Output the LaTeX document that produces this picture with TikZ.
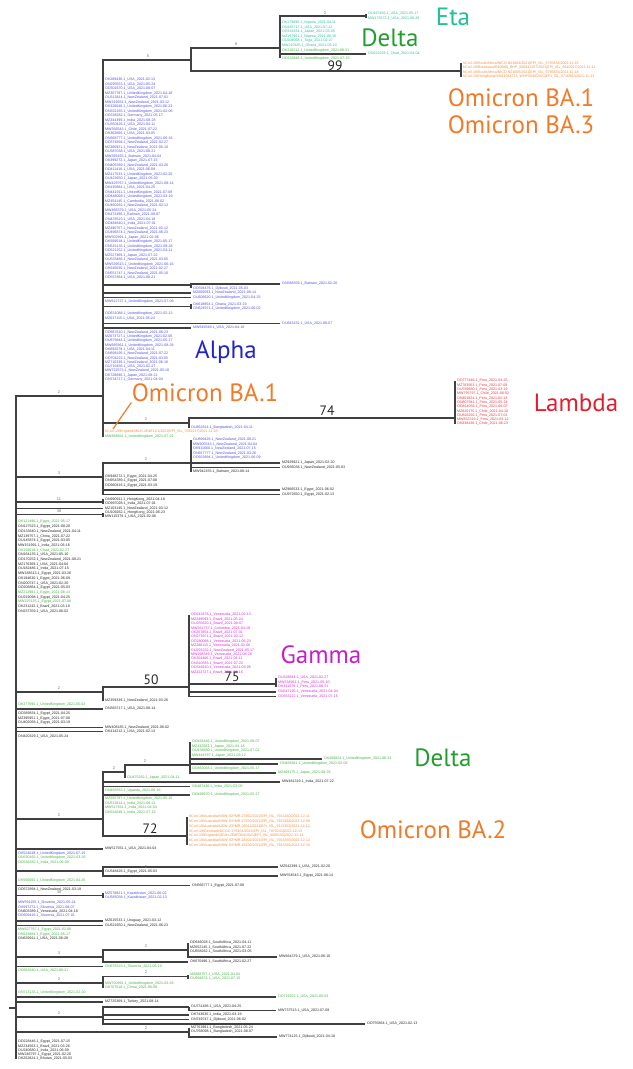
\documentclass[tikz,border=0pt]{standalone}
\usepackage{fontspec}
\setmainfont{Liberation Sans}
\newfontfamily\cladefont{PT Sans}

\definecolor{cEta}{RGB}{30,192,150}
\definecolor{cDelta}{RGB}{34,158,45}
\definecolor{cOmi}{RGB}{240,122,40}
\definecolor{cAlpha}{RGB}{35,35,205}
\definecolor{cLambda}{RGB}{228,28,45}
\definecolor{cGamma}{RGB}{200,30,200}
\definecolor{lBlue}{RGB}{80,80,225}
\definecolor{lGreen}{RGB}{70,175,70}
\definecolor{lTeal}{RGB}{45,190,150}
\definecolor{lOrange}{RGB}{240,140,65}
\definecolor{lRed}{RGB}{232,55,65}
\definecolor{lMag}{RGB}{210,45,210}
\colorlet{lBlack}{black!85}

\newcommand\leaffont{\fontsize{1.8}{2}\selectfont}
\newcommand\seqid[2]{\pgfmathtruncatemacro\sqp{mod(#1,6)}\pgfmathtruncatemacro\sqa{mod(61*(#1)+613,9000)+1000}\pgfmathtruncatemacro\sqb{mod(17*(#1)+29,90)+10}\pgfmathtruncatemacro\sqm{mod(3*(#1),7)+2}\pgfmathtruncatemacro\sqd{mod(11*(#1)+5,28)+1}\ifcase\sqp MZ\or OU\or MW\or OK\or ON\or OD\fi\sqa\sqb.1\_#2\_2021-0\sqm-\ifnum\sqd<10 0\fi\sqd}

\tikzset{
	br/.style={draw=black!75, line width=0.65pt},
	lf/.style={anchor=west, inner sep=0.9pt, font=\leaffont},
	clade/.style={font=\cladefont\fontsize{12.5}{13}\selectfont, inner sep=0pt},
	boot/.style={font=\cladefont\fontsize{6.8}{7}\selectfont, text=black!85, inner sep=0pt},
	tick/.style={font=\fontsize{2}{2}\selectfont, text=black!55, inner sep=0pt},
}

\begin{document}
\begin{tikzpicture}[x=0.5pt, y=-0.5pt]
	\useasboundingbox (0,0) rectangle (632,1069);
	\coordinate (rt) at (16,1008); \coordinate (rstub) at (9,1008);
	\coordinate (nA) at (103,396); \coordinate (nB) at (191,60); \coordinate (nC) at (280,48);
	\coordinate (nE) at (366,16); \coordinate (nO) at (461,71);
	\node[lf,text=lTeal] (e1) at (366,14) {\seqid{1}{USA}};
	\node[lf,text=lTeal] (e2) at (366,18.5) {\seqid{2}{USA}};
	\foreach \c [count=\i] in {Nigeria,USA,Japan,Nigeria,Togo,Ghana} \node[lf,text=lTeal] (dt\i) at (280,18+4.6*\i) {\seqid{\i+2}{\c}};
	\node[lf,text=lGreen] (dt7) at (280,50.2) {\seqid{9}{UnitedKingdom}};
	\node[lf,text=lTeal] (dt8) at (366,54) {\seqid{10}{Chad}};
	\node[lf,text=lGreen] (dt9) at (280,58.5) {\seqid{11}{UnitedKingdom}};
	\foreach \s [count=\i] in {hCoV-19/SouthAfrica/NICD-N21604/2021|EPI\_ISL\_6795834|2021-11-16,hCoV-19/Botswana/R40B60\_BHP\_000842207/2021|EPI\_ISL\_6640917|2021-11-11,hCoV-19/SouthAfrica/NICD-N21605/2021|EPI\_ISL\_6795835|2021-11-18,hCoV-19/HongKong/VM21044713\_WHP5048/2021|EPI\_ISL\_6716902|2021-11-13} \node[lf,text=lOrange] (om\i) at (461,59+4.5*\i) {\s};
	\draw[br] (rstub) -- (rt);
	\draw[br] (rt) |- (nA);
	\draw[br] (nA) |- (nB);
	\draw[br] (nB) |- (nC); \draw[br] (nB) |- (nO);
	\draw[br] (nC) |- (nE);
	\foreach \i in {1,2} \draw[br] (nE) |- (e\i.west);
	\foreach \i in {1,...,9} \draw[br] (nC) |- (dt\i.west);
	\foreach \i in {1,...,4} \draw[br] (nO) |- (om\i.west);
	\foreach \c [count=\i] in {USA,USA,USA,UnitedKingdom,NewZealand,NewZealand,UnitedKingdom,UnitedKingdom,Germany,India,USA,Chile,USA,UnitedKingdom,NewZealand,NewZealand,USA,Bahrain,Japan,NewZealand,USA,UnitedKingdom,Japan,UnitedKingdom,USA,UnitedKingdom,UnitedKingdom,Cambodia,NewZealand,USA,Bahrain,USA,India,NewZealand,NewZealand,Japan,UnitedKingdom,UnitedKingdom,UnitedKingdom,Japan,NewZealand,UnitedKingdom,NewZealand,NewZealand,USA} \node[lf,text=lBlue] (al\i) at (103,75.5+4.5*\i) {\seqid{\i+20}{\c}};
	\foreach \i in {1,...,45} \draw[br] (nA) |- (al\i.west);
	\coordinate (n1) at (191,285); \coordinate (n2) at (191,306.5);
	\node[lf,text=lBlue] (b1) at (280,284) {\seqid{70}{Bahrain}};
	\node[lf,text=lBlue] (b2) at (191,288.5) {\seqid{71}{Djibouti}};
	\node[lf,text=lBlue] (b3) at (191,293) {\seqid{72}{NewZealand}};
	\node[lf,text=lBlue] (b4) at (191,297.5) {\seqid{73}{UnitedKingdom}};
	\node[lf,text=lBlue] (b5) at (103,302) {\seqid{74}{UnitedKingdom}};
	\node[lf,text=lBlue] (b6) at (191,304.5) {\seqid{75}{Ghana}};
	\node[lf,text=lBlue] (b7) at (191,309) {\seqid{76}{UnitedKingdom}};
	\node[lf,text=lBlue] (b8) at (103,314) {\seqid{77}{UnitedKingdom}};
	\node[lf,text=lBlue] (b9) at (103,318.5) {\seqid{78}{USA}};
	\node[lf,text=lBlue] (b10) at (280,323.5) {\seqid{79}{USA}};
	\node[lf,text=lBlue] (b11) at (191,328) {\seqid{80}{USA}};
	\draw[br] (nA) |- (n1); \draw[br] (n1) |- (b1.west); \draw[br] (n1) |- (b2.west);
	\draw[br] (nA) |- (n2); \draw[br] (n2) |- (b6.west); \draw[br] (n2) |- (b7.west);
	\foreach \i in {3,4,5,8,9,10,11} \draw[br] (nA) |- (b\i.west);
	\foreach \c [count=\i] in {NewZealand,UnitedKingdom,UnitedKingdom,UnitedKingdom,USA,NewZealand,NewZealand,NewZealand,USA,NewZealand,Japan,Germany} \node[lf,text=lBlue] (ab\i) at (103,328+4.3*\i) {\seqid{\i+82}{\c}};
	\foreach \i in {1,...,12} \draw[br] (nA) |- (ab\i.west);
	\coordinate (n3) at (189,423); \coordinate (nL) at (455,418);
	\foreach \c [count=\i] in {Peru,Peru,Peru,Chile,Peru,Peru,Peru,Chile,Peru,Peru,Chile} \node[lf,text=lRed] (lm\i) at (455,376.7+4.3*\i) {\seqid{\i+100}{\c}};
	\node[lf,text=lBlue] (b12) at (189,427.5) {\seqid{115}{Bangladesh}};
	\node[lf,text=lOrange] (b13) at (103,432) {hCoV-19/England/MILK-2E4E1C1/2021|EPI\_ISL\_7082217|2021-11-28};
	\node[lf,text=lGreen] (b14) at (103,436.5) {\seqid{116}{UnitedKingdom}};
	\draw[br] (nA) |- (n3); \draw[br] (n3) |- (nL); \draw[br] (n3) |- (b12.west);
	\foreach \i in {1,...,11} \draw[br] (nL) |- (lm\i.west);
	\draw[br] (nA) |- (b13.west); \draw[br] (nA) |- (b14.west);
	\node[clade,text=cEta] (lEta) at (453,17) {Eta};
	\node[clade,text=cDelta] (lDelta1) at (390,38) {Delta};
	\node[boot] (s99) at (335,66) {99};
	\node[clade,text=cOmi] (lBA1) at (521,98) {Omicron BA.1};
	\node[clade,text=cOmi] (lBA3) at (521,125) {Omicron BA.3};
	\node[clade,text=cAlpha] (lAlpha) at (226,352) {Alpha};
	\node[clade,text=cOmi] (lBA1b) at (205,393) {Omicron BA.1};
	\node[boot] (s74) at (327,411) {74};
	\node[clade,text=cLambda] (lLambda) at (576,403) {Lambda};
	\coordinate (ptr) at (113,429);
	\draw[cOmi, line width=0.6pt] (ptr) -- (lBA1b.south west);
	\coordinate (nB2) at (103,477); \coordinate (n4) at (191,463);
	\foreach \c [count=\i] in {NewZealand,NewZealand,NewZealand,NewZealand,UnitedKingdom} \node[lf,text=lBlue] (c\i) at (191,435.5+4.5*\i) {\seqid{\i+120}{\c}};
	\node[lf,text=lBlack] (c6) at (280,463) {\seqid{126}{Japan}};
	\node[lf,text=lBlack] (c7) at (280,467.5) {\seqid{127}{NewZealand}};
	\node[lf,text=lBlack] (c8) at (191,472) {\seqid{128}{Bahrain}};
	\foreach \i in {1,2,3} \node[lf,text=lBlack] (ce\i) at (103,472.5+4.3*\i) {\seqid{\i+128}{Egypt}};
	\node[lf,text=lBlack] (c9) at (280,490) {\seqid{132}{Egypt}};
	\node[lf,text=lBlack] (c10) at (280,494.5) {\seqid{133}{Egypt}};
	\draw[br] (rt) |- (nB2); \draw[br] (nB2) |- (n4);
	\foreach \i in {1,...,8} \draw[br] (n4) |- (c\i.west);
	\foreach \i in {1,2,3} \draw[br] (nB2) |- (ce\i.west);
	\draw[br] (nB2) |- (c9.west); \draw[br] (nB2) |- (c10.west);
	\coordinate (h1) at (103,502); \coordinate (h3) at (103,514.5);
	\foreach \c [count=\i] in {HongKong,India,NewZealand,HongKong,USA} \node[lf,text=lBlack] (hk\i) at (103,495+4.4*\i) {\seqid{\i+135}{\c}};
	\draw[br] (rt) |- (h1); \draw[br] (h1) |- (hk1.west); \draw[br] (h1) |- (hk2.west);
	\draw[br] (rt) |- (hk3.west);
	\draw[br] (rt) |- (h3); \draw[br] (h3) |- (hk4.west); \draw[br] (h3) |- (hk5.west);
	\foreach \c/\k [count=\i] in {Egypt/lGreen,Egypt/lBlack,NewZealand/lBlack,China/lBlack,Egypt/lBlack,India/lBlack,Chad/lGreen,USA/lBlack,NewZealand/lBlack,USA/lBlack,India/lBlack,Egypt/lBlack,Egypt/lBlack,USA/lBlack,Egypt/lBlack,Egypt/lGreen,Egypt/lBlack,Egypt/lGreen,Brazil/lBlack,USA/lBlack} \node[lf,text=\k] (r\i) at (16,517.3+4.7*\i) {\seqid{\i+140}{\c}};
	\foreach \i in {1,...,20} \draw[br] (rt) |- (r\i.west);
	\coordinate (nG0) at (103,692); \coordinate (nG1) at (189,687); \coordinate (nG2) at (276,684);
	\foreach \c [count=\i] in {Venezuela,Brazil,Brazil,Colombia,Brazil,Brazil,Venezuela,Venezuela,NewZealand,Venezuela,Brazil,Brazil,Venezuela,Brazil} \node[lf,text=lMag] (g\i) at (189,610.6+4.4*\i) {\seqid{\i+160}{\c}};
	\node[lf,text=lMag] (g15) at (276,678) {\seqid{175}{USA}};
	\node[lf,text=lMag] (g16) at (276,682.5) {\seqid{176}{Peru}};
	\node[lf,text=lMag] (g17) at (276,687) {\seqid{177}{Peru}};
	\node[lf,text=lMag] (g18) at (276,692) {\seqid{178}{Venezuela}};
	\node[lf,text=lMag] (g19) at (276,696.5) {\seqid{179}{Venezuela}};
	\node[lf,text=lBlack] (g20) at (103,701) {\seqid{180}{NewZealand}};
	\draw[br] (rt) |- (nG0); \draw[br] (nG0) |- (nG1); \draw[br] (nG1) |- (nG2);
	\foreach \i in {1,...,14,18,19} \draw[br] (nG1) |- (g\i.west);
	\foreach \i in {15,16,17} \draw[br] (nG2) |- (g\i.west);
	\draw[br] (nG0) |- (g20.west);
	\node[clade,text=cGamma] (lGamma) at (321,655) {Gamma};
	\node[boot] (s50) at (151,680) {50};
	\node[boot] (s75) at (232,677) {75};
	\foreach \x/\y/\c/\k [count=\i] in {16/704.5/UnitedKingdom/lGreen,103/709/USA/lBlack,16/714/Egypt/lBlack,16/718.5/Egypt/lBlack,16/723/Egypt/lBlack,103/727.5/NewZealand/lBlack,103/731.5/USA/lBlack,16/737/USA/lBlack} \node[lf,text=\k] (k\i) at (\x,\y) {\seqid{\i+182}{\c}};
	\foreach \i in {1,...,8} \draw[br] (rt) |- (k\i.west);
	\coordinate (nD0) at (103,819); \coordinate (nD1) at (125,772); \coordinate (nD2) at (190,765); \coordinate (nD3) at (187,836);
	\foreach \c [count=\i] in {UnitedKingdom,Japan,UnitedKingdom,Japan} \node[lf,text=lGreen] (dl\i) at (190,737.6+4.4*\i) {\seqid{\i+190}{\c}};
	\foreach \x/\y/\c/\k [count=\i from 5] in {322/759/UnitedKingdom/lGreen,278/764/UnitedKingdom/lGreen,190/768.3/UnitedKingdom/lGreen,276/773/Japan/lGreen,125/777.5/Japan/lGreen,280/782/India/lBlack,190/786.5/India/lGreen,103/791/Uganda/lGreen,190/795/UnitedKingdom/lGreen,103/799/UnitedKingdom/lGreen,103/803.5/India/lGreen,103/808/India/lGreen,103/812.5/India/lGreen} \node[lf,text=\k] (dl\i) at (\x,\y) {\seqid{\i+190}{\c}};
	\foreach \s [count=\i] in {hCoV-19/Australia/NSW-ICPMR-27962/2021|EPI\_ISL\_7913260|2021-12-11,hCoV-19/Australia/NSW-ICPMR-27970/2021|EPI\_ISL\_7913268|2021-12-09,hCoV-19/Australia/NSW-ICPMR-28011/2021|EPI\_ISL\_7913302|2021-12-12,hCoV-19/Denmark/DCGC-276451/2021|EPI\_ISL\_7970243|2021-12-13,hCoV-19/England/QEUH-2E8F0B4/2021|EPI\_ISL\_8006155|2021-12-14,hCoV-19/Australia/NSW-ICPMR-28102/2021|EPI\_ISL\_7913355|2021-12-12,hCoV-19/Australia/NSW-ICPMR-28150/2021|EPI\_ISL\_7913391|2021-12-15} \node[lf,text=lOrange] (ob\i) at (187,812.3+4.7*\i) {\s};
	\draw[br] (rt) |- (nD0); \draw[br] (nD0) |- (nD1); \draw[br] (nD1) |- (nD2); \draw[br] (nD0) |- (nD3);
	\foreach \i in {1,...,8} \draw[br] (nD2) |- (dl\i.west);
	\draw[br] (nD1) |- (dl9.west);
	\foreach \i in {10,...,17} \draw[br] (nD0) |- (dl\i.west);
	\foreach \i in {1,...,7} \draw[br] (nD3) |- (ob\i.west);
	\node[clade,text=cDelta] (lDelta2) at (443,758) {Delta};
	\node[boot] (s72) at (150,829) {72};
	\node[clade,text=cOmi] (lBA2) at (433,830) {Omicron BA.2};
	\coordinate (nM1) at (103,871); \coordinate (nM2) at (103,895.5); \coordinate (nM3) at (103,957); \coordinate (nM4) at (188,950);
	\coordinate (nM5) at (103,983); \coordinate (nM6) at (188,976.5); \coordinate (nM7) at (103,1017); \coordinate (nM8) at (189,1007);
	\coordinate (nM9) at (103,1032); \coordinate (nM10) at (189,1032);
	\foreach \x/\y/\c/\k [count=\i] in {103/849/USA/lBlack,16/853.5/UnitedKingdom/lBlue,16/858/UnitedKingdom/lGreen,16/862.5/India/lGreen,278/867/USA/lBlack,103/871.5/Egypt/lBlack,278/876/Egypt/lBlack,16/881/UnitedKingdom/lGreen,190/885.5/Egypt/lBlack,16/890/NewZealand/lBlack,103/893.3/Kazakhstan/lBlue,103/897.8/Kazakhstan/lBlue,16/903/Slovenia/lBlue,16/907.3/Slovenia/lBlue,16/911.5/Venezuela/lBlack,16/915.8/Slovenia/lBlue,103/921/Uruguay/lBlack,103/925.3/NewZealand/lBlack,16/930/Egypt/lGreen,16/934.3/Egypt/lGreen,16/938.6/USA/lBlack} \node[lf,text=\k] (m\i) at (\x,\y) {\seqid{\i+205}{\c}};
	\foreach \x/\y/\c/\k [count=\i from 22] in {188/943/SouthAfrica/lBlack,188/947.5/SouthAfrica/lBlack,188/952/SouthAfrica/lBlack,277/957/USA/lBlack,188/962/SouthAfrica/lBlack,103/966.5/Slovenia/lGreen,16/970.5/USA/lGreen,188/974.5/USA/lGreen,188/979/USA/lGreen,103/983.5/UnitedKingdom/lGreen,103/987.8/China/lGreen,16/993/UnitedKingdom/lGreen,276/997/USA/lGreen,103/1002/Turkey/lBlack,189/1007/USA/lBlack,276/1010.5/USA/lBlack,189/1015/India/lBlack,189/1019.5/Djibouti/lBlack,365/1024/USA/lBlack,189/1027.5/Bangladesh/lBlack,189/1032/Bangladesh/lBlack,277/1037/Djibouti/lBlack} \node[lf,text=\k] (m\i) at (\x,\y) {\seqid{\i+205}{\c}};
	\foreach \c [count=\i] in {Egypt,Brazil,India,Egypt,Bhutan} \node[lf,text=lBlack] (rz\i) at (16,1037.5+4.3*\i) {\seqid{\i+10}{\c}};
	\foreach \i in {1,2,3,4,8,9,10,13,14,15,16,19,20,21,28,33,34,35} \draw[br] (rt) |- (m\i.west);
	\draw[br] (rt) |- (nM1); \foreach \i in {5,6,7} \draw[br] (nM1) |- (m\i.west);
	\draw[br] (rt) |- (nM2); \foreach \i in {11,12} \draw[br] (nM2) |- (m\i.west);
	\foreach \i in {17,18} \draw[br] (rt) |- (m\i.west);
	\draw[br] (rt) |- (nM3); \draw[br] (nM3) |- (nM4); \draw[br] (nM3) |- (m26.west);
	\foreach \i in {22,23,24,25} \draw[br] (nM4) |- (m\i.west);
	\draw[br] (rt) |- (m27.west);
	\draw[br] (rt) |- (nM5); \draw[br] (nM5) |- (nM6); \foreach \i in {29,30} \draw[br] (nM6) |- (m\i.west);
	\foreach \i in {31,32} \draw[br] (nM5) |- (m\i.west);
	\draw[br] (rt) |- (nM7); \draw[br] (nM7) |- (nM8); \draw[br] (nM8) |- (m36.west); \draw[br] (nM8) |- (m37.west);
	\foreach \i in {38,39,40} \draw[br] (nM7) |- (m\i.west);
	\draw[br] (rt) |- (nM9); \draw[br] (nM9) |- (nM10); \foreach \i in {41,42,43} \draw[br] (nM10) |- (m\i.west);
	\foreach \i in {1,...,5} \draw[br] (rt) |- (rz\i.west);
	\foreach \x/\y/\v [count=\i] in {148/56/5,236/44/8,325/13/2,59/392/2,146/419/2,146/459/2,59/473/3,59/499/11,59/511/38,59/688/2,145/761/2,114/768/2,59/815/2,146/867/2,59/892/38,146/946/2,59/953/3,146/972/2,59/979/2,59/1013/2,146/1028/2} \node[tick] (t\i) at (\x,\y) {\v};
\end{tikzpicture}
\end{document}
